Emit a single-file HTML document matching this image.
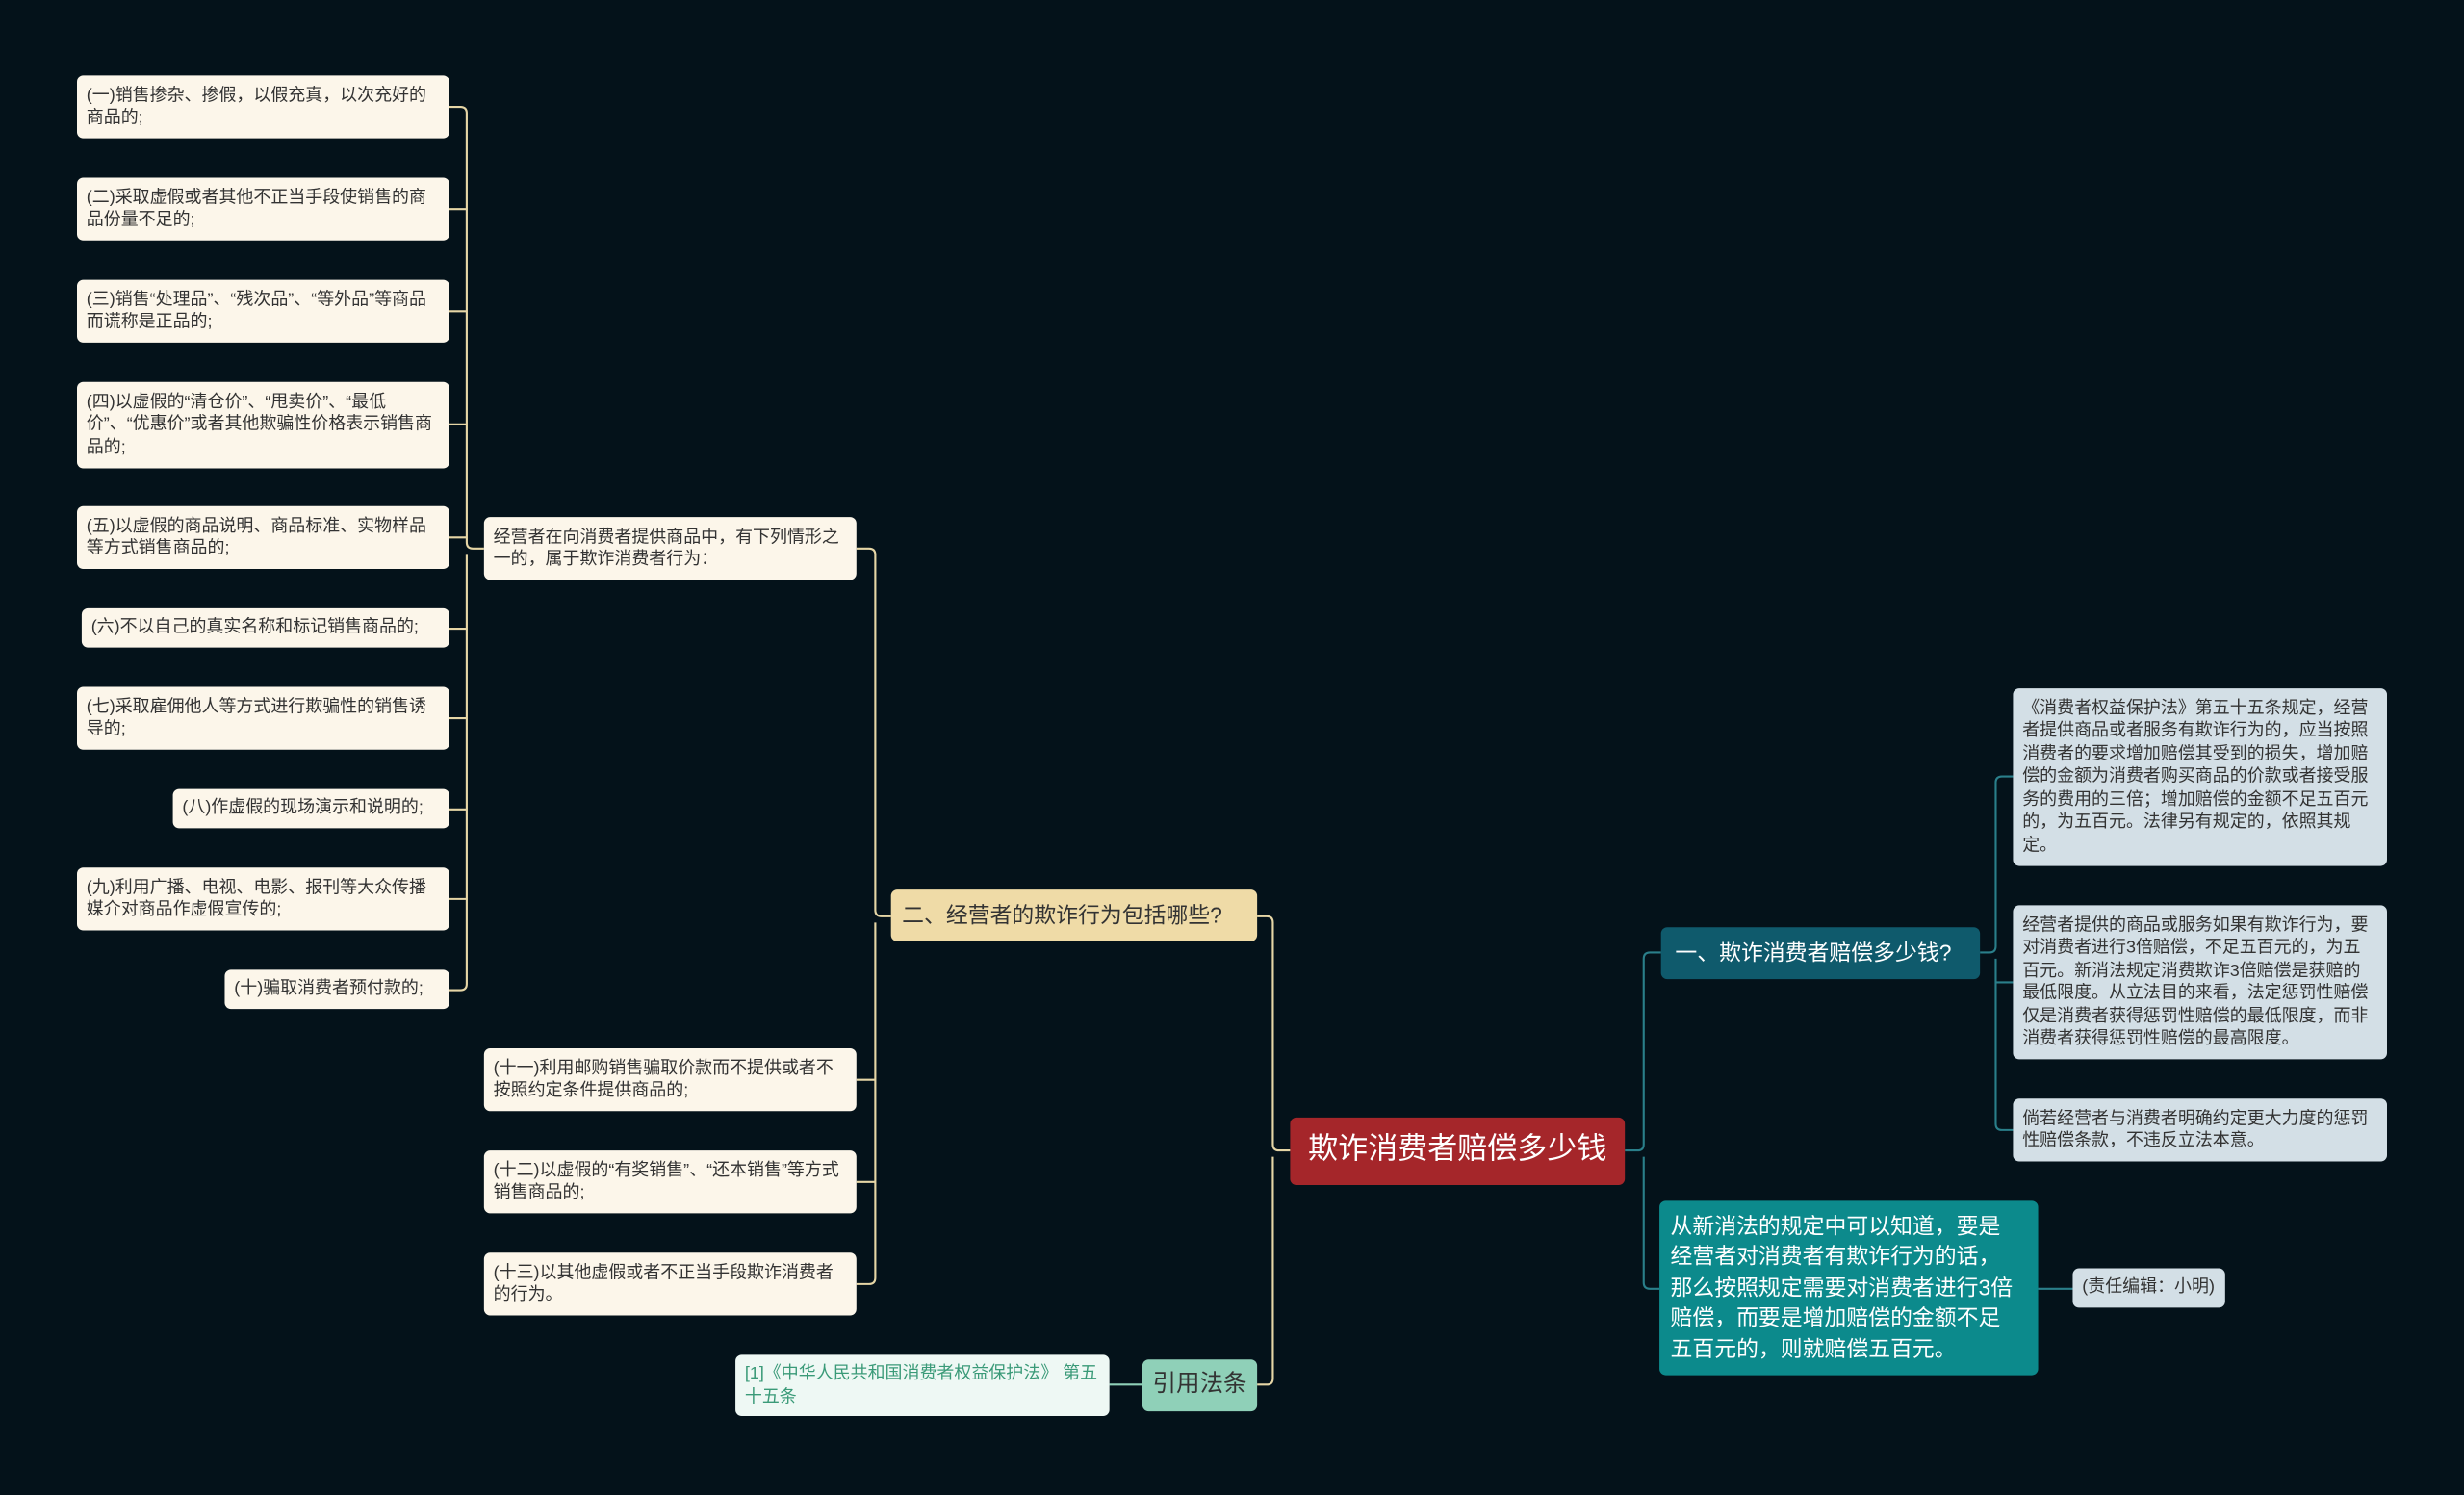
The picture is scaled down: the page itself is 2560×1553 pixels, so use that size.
<!DOCTYPE html>
<html><head><meta charset="utf-8"><style>
html,body{margin:0;padding:0;background:#04121a;}
#w{width:2560px;height:1553px;overflow:hidden;position:relative;background:#04121a;}
#c{position:absolute;left:0;top:0;width:1568px;height:951px;transform:scale(1.63265);transform-origin:0 0;font-family:"Liberation Sans","Noto Sans CJK SC",sans-serif;}
.n{position:absolute;box-sizing:border-box;border-radius:4px;font-size:11px;line-height:14.5px;padding:5px 6px;color:#333;background:#fcf6ea;display:flex;align-items:center;}
svg{position:absolute;left:0;top:0;}
</style></head><body><div id="w"><div id="c">
<svg width="1568" height="951" fill="none" stroke-width="1.3">
<g stroke="#e6d6a6">
<path d="M821 732 H814 Q810 732 810 728 V587 Q810 583 806 583 H800"/>
<path d="M810 736 V877 Q810 881 806 881 H800"/>
<path d="M567 583 H561 Q557 583 557 579 V353 Q557 349 553 349 H545"/>
<path d="M557 587 V813 Q557 817 553 817 H545 M557 687 H545 M557 752 H545"/>
<path d="M308 349 H301 Q297 349 297 345 V72 Q297 68 293 68 H286"/>
<path d="M297 353 V626 Q297 630 293 630 H286"/>
<path d="M297 133 H286 M297 198 H286 M297 270 H286 M297 342 H286 M297 400 H286 M297 457 H286 M297 515 H286 M297 572 H286"/>
</g>
<g stroke="#2a7f8a">
<path d="M1034 732 H1042 Q1046 732 1046 728 V610 Q1046 606 1050 606 H1057"/>
<path d="M1046 736 V816 Q1046 820 1050 820 H1056"/>
<path d="M1260 606 H1266 Q1270 606 1270 602 V498 Q1270 494 1274 494 H1281"/>
<path d="M1270 610 V715 Q1270 719 1274 719 H1281 M1270 625 H1281"/>
<path d="M1297 820 H1319"/>
</g>
<path d="M727 881 H706" stroke="#8fd0b8"/>
</svg>
<div class="n" style="left:821px;top:711px;width:213px;height:43px;background:#a5262a;color:#fff;font-size:19px;justify-content:center;">欺诈消费者赔偿多少钱</div>
<div class="n" style="left:1057px;top:590px;width:203px;height:33px;background:#0f5a6c;color:#fff;font-size:14px;padding-left:9px;">一、欺诈消费者赔偿多少钱?</div>
<div class="n" style="left:1281px;top:438px;width:238px;height:113px;background:#d3dfe6;">《消费者权益保护法》第五十五条规定，经营者提供商品或者服务有欺诈行为的，应当按照消费者的要求增加赔偿其受到的损失，增加赔偿的金额为消费者购买商品的价款或者接受服务的费用的三倍；增加赔偿的金额不足五百元的，为五百元。法律另有规定的，依照其规定。</div>
<div class="n" style="left:1281px;top:576px;width:238px;height:98px;background:#d3dfe6;">经营者提供的商品或服务如果有欺诈行为，要对消费者进行3倍赔偿，不足五百元的，为五百元。新消法规定消费欺诈3倍赔偿是获赔的最低限度。从立法目的来看，法定惩罚性赔偿仅是消费者获得惩罚性赔偿的最低限度，而非消费者获得惩罚性赔偿的最高限度。</div>
<div class="n" style="left:1281px;top:699px;width:238px;height:40px;background:#d3dfe6;">倘若经营者与消费者明确约定更大力度的惩罚性赔偿条款，不违反立法本意。</div>
<div class="n" style="left:1056px;top:764px;width:241px;height:111px;background:#0c8a8c;color:#fff;font-size:14px;line-height:19.5px;padding:6px 12px 6px 7px;">从新消法的规定中可以知道，要是经营者对消费者有欺诈行为的话，那么按照规定需要对消费者进行3倍赔偿，而要是增加赔偿的金额不足五百元的，则就赔偿五百元。</div>
<div class="n" style="left:1319px;top:807px;width:97px;height:25px;background:#d3dfe6;">(责任编辑：小明)</div>
<div class="n" style="left:567px;top:566px;width:233px;height:33px;background:#efdba7;font-size:14px;padding-left:7px;">二、经营者的欺诈行为包括哪些?</div>
<div class="n" style="left:308px;top:329px;width:237px;height:40px;">经营者在向消费者提供商品中，有下列情形之一的，属于欺诈消费者行为：</div>
<div class="n" style="left:308px;top:667px;width:237px;height:40px;">(十一)利用邮购销售骗取价款而不提供或者不按照约定条件提供商品的;</div>
<div class="n" style="left:308px;top:732px;width:237px;height:40px;">(十二)以虚假的“有奖销售”、“还本销售”等方式销售商品的;</div>
<div class="n" style="left:308px;top:797px;width:237px;height:40px;">(十三)以其他虚假或者不正当手段欺诈消费者的行为。</div>
<div class="n" style="left:49px;top:48px;width:237px;height:40px;">(一)销售掺杂、掺假，以假充真，以次充好的商品的;</div>
<div class="n" style="left:49px;top:113px;width:237px;height:40px;">(二)采取虚假或者其他不正当手段使销售的商品份量不足的;</div>
<div class="n" style="left:49px;top:178px;width:237px;height:40px;">(三)销售“处理品”、“残次品”、“等外品”等商品而谎称是正品的;</div>
<div class="n" style="left:49px;top:243px;width:237px;height:55px;">(四)以虚假的“清仓价”、“甩卖价”、“最低价”、“优惠价”或者其他欺骗性价格表示销售商品的;</div>
<div class="n" style="left:49px;top:322px;width:237px;height:40px;">(五)以虚假的商品说明、商品标准、实物样品等方式销售商品的;</div>
<div class="n" style="left:52px;top:387px;width:234px;height:25px;">(六)不以自己的真实名称和标记销售商品的;</div>
<div class="n" style="left:49px;top:437px;width:237px;height:40px;">(七)采取雇佣他人等方式进行欺骗性的销售诱导的;</div>
<div class="n" style="left:110px;top:502px;width:176px;height:25px;">(八)作虚假的现场演示和说明的;</div>
<div class="n" style="left:49px;top:552px;width:237px;height:40px;">(九)利用广播、电视、电影、报刊等大众传播媒介对商品作虚假宣传的;</div>
<div class="n" style="left:143px;top:617px;width:143px;height:25px;">(十)骗取消费者预付款的;</div>
<div class="n" style="left:727px;top:865px;width:73px;height:33px;background:#8fd0b8;font-size:15px;justify-content:center;">引用法条</div>
<div class="n" style="left:468px;top:862px;width:238px;height:39px;background:#eef8f4;color:#3a9a78;">[1]《中华人民共和国消费者权益保护法》 第五十五条</div>
</div></div></body></html>
